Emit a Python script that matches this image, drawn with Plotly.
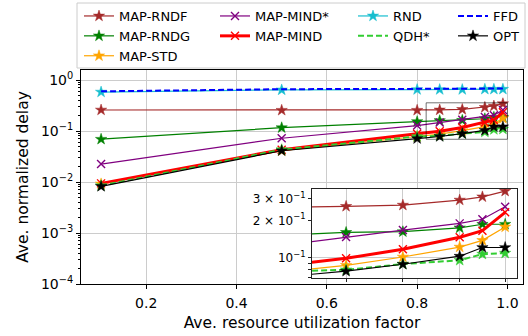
import math
import plotly.graph_objects as go

# ---------------- data ----------------
util = [0.1, 0.5, 0.8, 0.85, 0.9, 0.95, 0.97, 0.99]

map_rndf = [0.258, 0.255, 0.255, 0.259, 0.265, 0.291, 0.309, 0.343]
map_rndg = [0.069, 0.116, 0.153, 0.160, 0.162, 0.174, 0.186, 0.186]
map_std = [0.0092, 0.041, 0.078, 0.087, 0.1015, 0.122, 0.138, 0.177]
map_mind_star = [0.0225, 0.072, 0.128, 0.147, 0.167, 0.189, 0.204, 0.257]
map_mind = [0.0094, 0.043, 0.088, 0.099, 0.117, 0.146, 0.165, 0.232]
rnd = [0.58, 0.64, 0.65, 0.65, 0.65, 0.66, 0.66, 0.66]
qdh_star = [0.0085, 0.043, 0.078, 0.080, 0.089, 0.0955, 0.107, 0.109]
ffd = [0.60, 0.66, 0.67, 0.67, 0.67, 0.67, 0.67, 0.68]
opt = [0.0082, 0.041, 0.071, 0.078, 0.0887, 0.103, 0.121, 0.121]

x_ticks = [0.2, 0.4, 0.6, 0.8, 1.0]
x_ticktext = ["0.2", "0.4", "0.6", "0.8", "1.0"]
y_ticks = [1e-4, 1e-3, 1e-2, 1e-1, 1e0]
y_ticktext = ["10<sup>−4</sup>", "10<sup>−3</sup>", "10<sup>−2</sup>", "10<sup>−1</sup>", "10<sup>0</sup>"]

inset_x_range = [0.82, 1.0]
inset_y_range = [0.0688, 0.357]
inset_x_ticks = [0.85, 0.9, 0.95, 0.99]
inset_y_ticks = [0.07, 0.08, 0.09, 0.1, 0.2, 0.3]
inset_y_ticktext = ["", "", "", "10<sup>−1</sup>", "2 × 10<sup>−1</sup>", "3 × 10<sup>−1</sup>"]

FONT = "DejaVu Sans"

# name, values, color, width, dash, marker symbol, legend id
series = [
    ("MAP-RNDF", map_rndf, "#a52a2a", 1.2, "solid", "star", "legend"),
    ("MAP-RNDG", map_rndg, "#008000", 1.2, "solid", "star", "legend"),
    ("MAP-STD", map_std, "#ffa500", 1.2, "solid", "star", "legend"),
    ("MAP-MIND*", map_mind_star, "#800080", 1.2, "solid", "x", "legend2"),
    ("MAP-MIND", map_mind, "#ff0000", 3.0, "solid", "x", "legend2"),
    ("RND", rnd, "#17becf", 1.2, "solid", "star", "legend3"),
    ("QDH*", qdh_star, "#32cd32", 2.0, "6px,3px", None, "legend3"),
    ("FFD", ffd, "#0000ff", 2.0, "6px,3px", None, "legend4"),
    ("OPT", opt, "#000000", 1.2, "solid", "star", "legend4"),
]
# QDH* shows star markers in the plot but not in legend
extra_markers = {"QDH*": "star"}


def marker_dict(sym, color):
    if sym == "star":
        return dict(symbol="star", size=8.5, color=color, line=dict(width=0.5, color=color))
    return dict(symbol="x-thin-open", size=8, color=color, line=dict(width=1.4, color=color))


fig = go.Figure()

for axes_idx, (xa, ya) in enumerate([("x", "y"), ("x2", "y2")]):
    for name, vals, color, width, dash, sym, leg in series:
        if name in extra_markers:
            fig.add_trace(go.Scatter(
                x=util, y=vals, mode="markers", showlegend=False,
                marker=marker_dict(extra_markers[name], color),
                xaxis=xa, yaxis=ya, hoverinfo="skip"))
        fig.add_trace(go.Scatter(
            x=util, y=vals, name=name,
            mode="lines+markers" if sym else "lines",
            line=dict(color=color, width=width, dash=dash),
            marker=marker_dict(sym, color) if sym else None,
            legend=leg, showlegend=(axes_idx == 0),
            xaxis=xa, yaxis=ya))

W, H = 528, 336
L, R, T, B = 81, 5, 70, 52
pw, ph = W - L - R, H - T - B


def px_x(p):
    return (p - L) / pw


def px_y(p):
    return (H - B - p) / ph


legend_common = dict(
    orientation="v", xanchor="left", yanchor="top",
    bgcolor="rgba(0,0,0,0)", borderwidth=0,
    font=dict(family=FONT, size=13, color="black"),
    itemwidth=30, tracegroupgap=0,
)
leg_y = px_y(1)
fig.update_layout(
    legend=dict(x=px_x(79), y=leg_y, **legend_common),
    legend2=dict(x=px_x(215), y=leg_y, **legend_common),
    legend3=dict(x=px_x(353), y=leg_y, **legend_common),
    legend4=dict(x=px_x(453), y=leg_y, **legend_common),
)

minor_y = [m * 10 ** e for e in range(-4, 0) for m in range(2, 10)]

fig.update_layout(
    width=W, height=H,
    margin=dict(l=L, r=R, t=T, b=B, autoexpand=False),
    paper_bgcolor="white", plot_bgcolor="white",
    font=dict(family=FONT, color="black"),
    xaxis=dict(
        domain=[0, 1], range=[0.0555, 1.0345], tickvals=x_ticks, ticktext=x_ticktext,
        showgrid=True, gridcolor="#cccccc", gridwidth=1, zeroline=False,
        showline=True, mirror=True, linecolor="black", linewidth=1,
        ticks="outside", ticklen=4, tickcolor="black", ticklabelstandoff=2,
        tickfont=dict(family=FONT, size=14, color="black"),
        title=dict(text="Ave. resource utilization factor", standoff=7,
                   font=dict(family=FONT, size=15.5, color="black")),
    ),
    yaxis=dict(
        domain=[0, 1], type="log", range=[-4, 0.196], tickvals=y_ticks, ticktext=y_ticktext,
        showgrid=True, gridcolor="#cccccc", gridwidth=1, zeroline=False,
        showline=True, mirror=True, linecolor="black", linewidth=1,
        ticks="outside", ticklen=4, tickcolor="black",
        tickfont=dict(family=FONT, size=14, color="black"),
        minor=dict(tickvals=minor_y, ticks="outside", ticklen=2, tickcolor="black", showgrid=False),
        title=dict(text="Ave. normalized delay", standoff=8,
                   font=dict(family=FONT, size=15.5, color="black")),
    ),
    xaxis2=dict(
        domain=[px_x(312), px_x(516.5)], anchor="y2", range=inset_x_range,
        tickvals=inset_x_ticks, showticklabels=False,
        showgrid=True, gridcolor="#cccccc", gridwidth=1, zeroline=False,
        showline=True, mirror=True, linecolor="#222222", linewidth=1,
        ticks="outside", ticklen=3, tickcolor="#222222",
    ),
    yaxis2=dict(
        domain=[px_y(278), px_y(189)], anchor="x2", type="log",
        range=[math.log10(inset_y_range[0]), math.log10(inset_y_range[1])],
        tickvals=inset_y_ticks, ticktext=inset_y_ticktext,
        showgrid=False, zeroline=False,
        showline=True, mirror=True, linecolor="#222222", linewidth=1,
        ticks="outside", ticklen=3, tickcolor="#222222",
        tickfont=dict(family=FONT, size=12, color="black"),
        minor=dict(tickvals=[0.1], ticks="", showgrid=True, gridcolor="#cccccc", gridwidth=1),
    ),
    shapes=[
        dict(type="rect", xref="paper", yref="paper",
             x0=px_x(77), x1=px_x(525), y0=px_y(68), y1=px_y(3),
             line=dict(color="#cccccc", width=1), fillcolor="rgba(255,255,255,0.8)", layer="below"),
        dict(type="rect", xref="x", yref="y",
             x0=inset_x_range[0], x1=inset_x_range[1],
             y0=inset_y_range[0], y1=inset_y_range[1],
             line=dict(color="rgba(0,0,0,0.55)", width=1), fillcolor="rgba(0,0,0,0)", layer="above"),
    ],
)

fig.write_html("out.html", config={"displayModeBar": False},
               post_script="document.body.style.margin='0';")
